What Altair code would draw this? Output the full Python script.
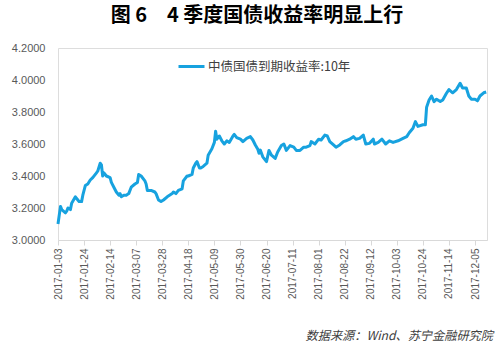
import altair as alt
import pandas as pd

title_text = "图 6　4 季度国债收益率明显上行"
series_name = "中债国债到期收益率:10年"
source_text = "数据来源：Wind、苏宁金融研究院"

dates = ["2017-01-03","2017-01-05","2017-01-06","2017-01-09","2017-01-10","2017-01-11","2017-01-13","2017-01-14","2017-01-17","2017-01-19","2017-01-20","2017-01-22","2017-01-23","2017-01-25","2017-01-27","2017-01-29","2017-01-31",
         "2017-02-03","2017-02-04","2017-02-06","2017-02-07","2017-02-08","2017-02-09","2017-02-11","2017-02-14","2017-02-15","2017-02-17","2017-02-19","2017-02-21","2017-02-22","2017-02-23","2017-02-25","2017-02-27",
         "2017-03-01","2017-03-03","2017-03-06","2017-03-08","2017-03-09","2017-03-11","2017-03-14","2017-03-15","2017-03-16","2017-03-19","2017-03-22","2017-03-23","2017-03-25","2017-03-27","2017-03-29",
         "2017-04-01","2017-04-05","2017-04-06","2017-04-08","2017-04-10","2017-04-13","2017-04-14","2017-04-17","2017-04-18","2017-04-21","2017-04-22","2017-04-24","2017-04-25","2017-04-27","2017-04-28","2017-04-30",
         "2017-05-03","2017-05-04","2017-05-07","2017-05-09","2017-05-10","2017-05-11","2017-05-13","2017-05-15","2017-05-17","2017-05-19","2017-05-21","2017-05-24","2017-05-25","2017-05-27","2017-05-30",
         "2017-06-01","2017-06-04","2017-06-07","2017-06-09","2017-06-11","2017-06-13","2017-06-14","2017-06-15","2017-06-17","2017-06-20","2017-06-22","2017-06-24","2017-06-27","2017-06-29",
         "2017-07-02","2017-07-04","2017-07-06","2017-07-09","2017-07-12","2017-07-14","2017-07-17","2017-07-20","2017-07-22","2017-07-25","2017-07-26","2017-07-29",
         "2017-08-01","2017-08-03","2017-08-06","2017-08-08","2017-08-10","2017-08-13","2017-08-15","2017-08-18","2017-08-21","2017-08-23","2017-08-26","2017-08-29","2017-08-31",
         "2017-09-03","2017-09-06","2017-09-08","2017-09-11","2017-09-14","2017-09-15","2017-09-18","2017-09-21","2017-09-24","2017-09-27","2017-09-30",
         "2017-10-04","2017-10-08","2017-10-11","2017-10-13","2017-10-16","2017-10-18","2017-10-20","2017-10-24","2017-10-26","2017-10-27","2017-10-29","2017-10-31",
         "2017-11-02","2017-11-04","2017-11-07","2017-11-09","2017-11-12","2017-11-14","2017-11-17","2017-11-20","2017-11-23","2017-11-25","2017-11-28","2017-11-30",
         "2017-12-02","2017-12-05","2017-12-07","2017-12-09","2017-12-12","2017-12-14"]

values = [3.10,3.21,3.19,3.17,3.18,3.20,3.19,3.23,3.27,3.25,3.24,3.24,3.28,3.34,3.35,3.375,3.39,
          3.42,3.43,3.48,3.47,3.40,3.42,3.40,3.39,3.36,3.33,3.30,3.28,3.29,3.27,3.28,3.28,
          3.29,3.33,3.35,3.36,3.41,3.40,3.37,3.35,3.31,3.31,3.30,3.29,3.25,3.24,3.25,
          3.27,3.29,3.30,3.29,3.31,3.32,3.37,3.40,3.40,3.41,3.45,3.48,3.49,3.45,3.45,3.46,
          3.48,3.53,3.57,3.61,3.68,3.63,3.65,3.62,3.60,3.62,3.61,3.65,3.66,3.64,3.63,
          3.615,3.635,3.646,3.625,3.594,3.567,3.542,3.562,3.52,3.49,3.56,3.53,3.51,3.55,
          3.59,3.60,3.56,3.59,3.58,3.56,3.56,3.58,3.58,3.59,3.615,3.60,
          3.63,3.625,3.656,3.65,3.615,3.594,3.58,3.594,3.615,3.62,3.63,3.646,3.63,
          3.635,3.656,3.60,3.604,3.63,3.60,3.61,3.63,3.60,3.62,3.61,
          3.62,3.635,3.646,3.67,3.698,3.74,3.71,3.72,3.72,3.83,3.875,3.90,
          3.865,3.88,3.865,3.875,3.917,3.94,3.92,3.94,3.98,3.95,3.95,3.90,
          3.88,3.88,3.87,3.90,3.92,3.925]

tick_dates = [(1,3),(1,24),(2,14),(3,7),(3,28),(4,18),(5,9),(5,30),(6,20),(7,11),
              (8,1),(8,22),(9,12),(10,3),(10,24),(11,14),(12,5)]
y_ticks = [3.0, 3.2, 3.4, 3.6, 3.8, 4.0, 4.2]

assert len(dates) == len(values)

df = pd.DataFrame({"date": dates, "value": values, "series": [series_name] * len(dates)})

FONT = "Noto Sans CJK SC"
LINE_COLOR = "#17A2DF"

x_enc = alt.X(
    "date:T",
    scale=alt.Scale(
        type="utc",
        domain=[alt.DateTime(year=2017, month=1, date=3, utc=True),
                alt.DateTime(year=2017, month=12, date=14, hours=16, utc=True)],
    ),
    axis=alt.Axis(
        title=None,
        values=[alt.DateTime(year=2017, month=m, date=d, utc=True) for m, d in tick_dates],
        format="%Y-%m-%d",
        labelAngle=270,
        labelFontSize=10,
        labelColor="#595959",
        labelFont="Liberation Sans",
        labelPadding=3,
        domainColor="#D9D9D9",
        tickColor="#D9D9D9",
        tickSize=5,
        grid=False,
        labelOverlap=False,
    ),
)

y_enc = alt.Y(
    "value:Q",
    scale=alt.Scale(domain=[3.0, 4.2], nice=False, zero=False),
    axis=alt.Axis(
        title=None,
        values=y_ticks,
        format=".4f",
        labelFontSize=11,
        labelColor="#595959",
        labelFont="Liberation Sans",
        labelPadding=13,
        domain=False,
        ticks=False,
        grid=False,
    ),
)

line = alt.Chart(df).mark_line(strokeWidth=3, strokeJoin="round").encode(
    x=x_enc,
    y=y_enc,
    color=alt.Color(
        "series:N",
        scale=alt.Scale(range=[LINE_COLOR]),
        legend=alt.Legend(
            title=None,
            orient="none",
            legendX=119,
            legendY=4,
            direction="horizontal",
            symbolType="stroke",
            symbolStrokeWidth=3,
            symbolSize=676,
            labelFontSize=12.5,
            labelFont=FONT,
            labelColor="#404040",
            labelOffset=2,
        ),
    ),
)

title_df = pd.DataFrame({"t": [title_text]})
title_mark = alt.Chart(title_df).mark_text(
    font=FONT, fontSize=20, fontWeight="bold", color="#000000",
    align="center", baseline="alphabetic",
).encode(x=alt.value(199), y=alt.value(-26), text="t:N")

src_df = pd.DataFrame({"t": [source_text]})
src_mark = alt.Chart(src_df).mark_text(
    font=FONT, fontSize=12.2, fontStyle="italic", color="#404040",
    align="right", baseline="alphabetic",
).encode(x=alt.value(435), y=alt.value(292), text="t:N")

chart = alt.layer(line, title_mark, src_mark).properties(
    width=429,
    height=192,
    autosize=alt.AutoSizeParams(type="none"),
    padding={"left": 58, "top": 48, "right": 17, "bottom": 111},
).configure_view(stroke=None).configure(background="white")

chart.save("out.html", embed_options={"renderer": "svg", "actions": False})
